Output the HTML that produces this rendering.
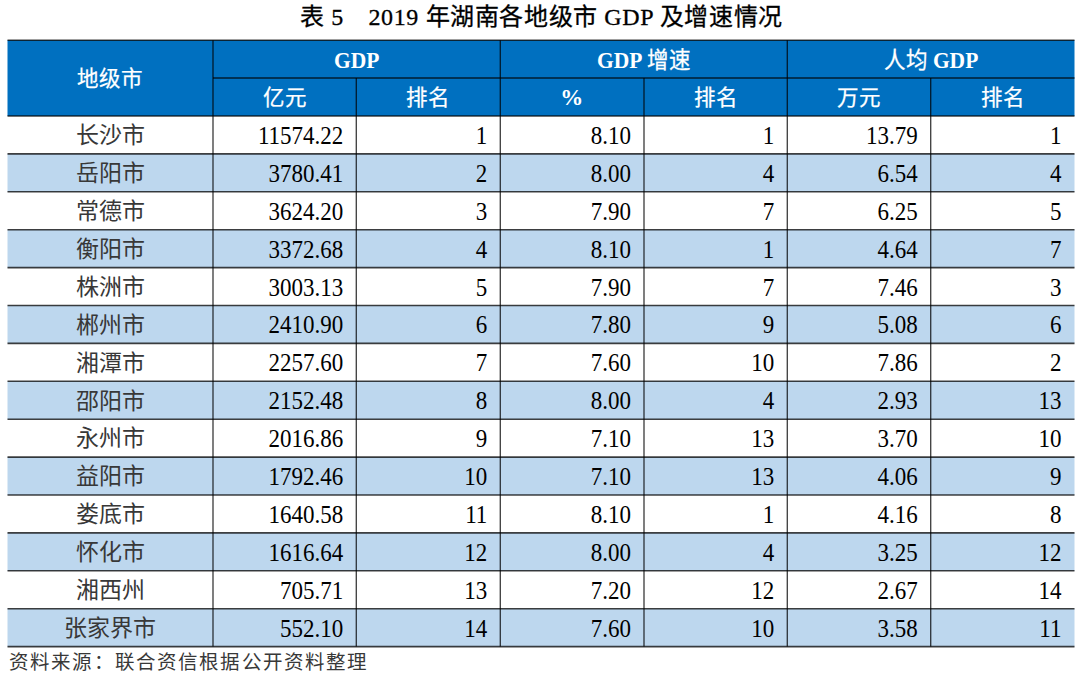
<!DOCTYPE html><html lang="zh-CN"><head><meta charset="utf-8"><style>
*{margin:0;padding:0;box-sizing:border-box}
html,body{width:1080px;height:678px;background:#fff;overflow:hidden;position:relative}
body{font-family:"Liberation Serif",serif;color:#000}
.t{position:absolute;white-space:nowrap}
.bg{position:absolute}
.ln{position:absolute;background:rgba(0,0,0,0.75)}
.title{left:0;width:1080px;text-align:center;font-size:24px;line-height:30px;letter-spacing:0.6px;padding-left:3px;-webkit-text-stroke:0.3px #000}
.hd{color:#fff;font-size:21.5px;text-align:center;-webkit-text-stroke:0.25px #fff}
.hdb{-webkit-text-stroke:0}
.hdb{font-weight:bold}
.nb{font-weight:normal;-webkit-text-stroke:0.25px #fff}
.cn{font-size:23px;text-align:center;color:#383838}
.num{font-size:23px;text-align:right;color:#000;transform:scaleY(1.09)}
.foot{font-size:19.5px;line-height:28px;color:#383838}
</style></head><body>
<svg style="position:absolute;left:0;top:0" width="1080" height="678" viewBox="0 0 1080 678"><rect x="7.50" y="40.20" width="1067.00" height="75.80" fill="#0070c0"/><rect x="7.50" y="153.90" width="1067.00" height="37.90" fill="#bdd7ee"/><rect x="7.50" y="229.70" width="1067.00" height="37.90" fill="#bdd7ee"/><rect x="7.50" y="305.50" width="1067.00" height="37.90" fill="#bdd7ee"/><rect x="7.50" y="381.30" width="1067.00" height="37.90" fill="#bdd7ee"/><rect x="7.50" y="457.10" width="1067.00" height="37.90" fill="#bdd7ee"/><rect x="7.50" y="532.90" width="1067.00" height="37.90" fill="#bdd7ee"/><rect x="7.50" y="608.70" width="1067.00" height="37.90" fill="#bdd7ee"/></svg>
<div class="t hd" style="left:7.50px;width:205.50px;top:64.40px;line-height:30px;height:30px;">地级市</div>
<div class="t hd hdb" style="left:213.00px;width:287.30px;top:45.00px;line-height:30px;height:30px;transform:scaleY(1.08)">GDP</div>
<div class="t hd hdb" style="left:500.30px;width:287.00px;top:45.00px;line-height:30px;height:30px;transform:scaleY(1.08)">GDP <span class="nb">增速</span></div>
<div class="t hd hdb" style="left:787.30px;width:287.20px;top:45.00px;line-height:30px;height:30px;transform:scaleY(1.08)"><span class="nb">人均</span> GDP</div>
<div class="t hd" style="left:213.00px;width:143.30px;top:83.30px;line-height:30px;height:30px;">亿元</div>
<div class="t hd" style="left:356.30px;width:144.00px;top:83.30px;line-height:30px;height:30px;">排名</div>
<div class="t hd hdb" style="left:500.30px;width:143.70px;top:83.30px;line-height:30px;height:30px;font-size:23px;padding-right:1px">%</div>
<div class="t hd" style="left:644.00px;width:143.30px;top:83.30px;line-height:30px;height:30px;">排名</div>
<div class="t hd" style="left:787.30px;width:143.40px;top:83.30px;line-height:30px;height:30px;">万元</div>
<div class="t hd" style="left:930.70px;width:143.80px;top:83.30px;line-height:30px;height:30px;">排名</div>
<div class="t cn" style="left:7.50px;width:205.50px;top:121.25px;line-height:30px;height:30px;">长沙市</div>
<div class="t num" style="left:213.00px;width:130.30px;top:120.95px;line-height:30px;height:30px;">11574.22</div>
<div class="t num" style="left:356.30px;width:131.00px;top:120.95px;line-height:30px;height:30px;">1</div>
<div class="t num" style="left:500.30px;width:130.70px;top:120.95px;line-height:30px;height:30px;">8.10</div>
<div class="t num" style="left:644.00px;width:130.30px;top:120.95px;line-height:30px;height:30px;">1</div>
<div class="t num" style="left:787.30px;width:130.40px;top:120.95px;line-height:30px;height:30px;">13.79</div>
<div class="t num" style="left:930.70px;width:130.80px;top:120.95px;line-height:30px;height:30px;">1</div>
<div class="t cn" style="left:7.50px;width:205.50px;top:159.15px;line-height:30px;height:30px;">岳阳市</div>
<div class="t num" style="left:213.00px;width:130.30px;top:158.85px;line-height:30px;height:30px;">3780.41</div>
<div class="t num" style="left:356.30px;width:131.00px;top:158.85px;line-height:30px;height:30px;">2</div>
<div class="t num" style="left:500.30px;width:130.70px;top:158.85px;line-height:30px;height:30px;">8.00</div>
<div class="t num" style="left:644.00px;width:130.30px;top:158.85px;line-height:30px;height:30px;">4</div>
<div class="t num" style="left:787.30px;width:130.40px;top:158.85px;line-height:30px;height:30px;">6.54</div>
<div class="t num" style="left:930.70px;width:130.80px;top:158.85px;line-height:30px;height:30px;">4</div>
<div class="t cn" style="left:7.50px;width:205.50px;top:197.05px;line-height:30px;height:30px;">常德市</div>
<div class="t num" style="left:213.00px;width:130.30px;top:196.75px;line-height:30px;height:30px;">3624.20</div>
<div class="t num" style="left:356.30px;width:131.00px;top:196.75px;line-height:30px;height:30px;">3</div>
<div class="t num" style="left:500.30px;width:130.70px;top:196.75px;line-height:30px;height:30px;">7.90</div>
<div class="t num" style="left:644.00px;width:130.30px;top:196.75px;line-height:30px;height:30px;">7</div>
<div class="t num" style="left:787.30px;width:130.40px;top:196.75px;line-height:30px;height:30px;">6.25</div>
<div class="t num" style="left:930.70px;width:130.80px;top:196.75px;line-height:30px;height:30px;">5</div>
<div class="t cn" style="left:7.50px;width:205.50px;top:234.95px;line-height:30px;height:30px;">衡阳市</div>
<div class="t num" style="left:213.00px;width:130.30px;top:234.65px;line-height:30px;height:30px;">3372.68</div>
<div class="t num" style="left:356.30px;width:131.00px;top:234.65px;line-height:30px;height:30px;">4</div>
<div class="t num" style="left:500.30px;width:130.70px;top:234.65px;line-height:30px;height:30px;">8.10</div>
<div class="t num" style="left:644.00px;width:130.30px;top:234.65px;line-height:30px;height:30px;">1</div>
<div class="t num" style="left:787.30px;width:130.40px;top:234.65px;line-height:30px;height:30px;">4.64</div>
<div class="t num" style="left:930.70px;width:130.80px;top:234.65px;line-height:30px;height:30px;">7</div>
<div class="t cn" style="left:7.50px;width:205.50px;top:272.85px;line-height:30px;height:30px;">株洲市</div>
<div class="t num" style="left:213.00px;width:130.30px;top:272.55px;line-height:30px;height:30px;">3003.13</div>
<div class="t num" style="left:356.30px;width:131.00px;top:272.55px;line-height:30px;height:30px;">5</div>
<div class="t num" style="left:500.30px;width:130.70px;top:272.55px;line-height:30px;height:30px;">7.90</div>
<div class="t num" style="left:644.00px;width:130.30px;top:272.55px;line-height:30px;height:30px;">7</div>
<div class="t num" style="left:787.30px;width:130.40px;top:272.55px;line-height:30px;height:30px;">7.46</div>
<div class="t num" style="left:930.70px;width:130.80px;top:272.55px;line-height:30px;height:30px;">3</div>
<div class="t cn" style="left:7.50px;width:205.50px;top:310.75px;line-height:30px;height:30px;">郴州市</div>
<div class="t num" style="left:213.00px;width:130.30px;top:310.45px;line-height:30px;height:30px;">2410.90</div>
<div class="t num" style="left:356.30px;width:131.00px;top:310.45px;line-height:30px;height:30px;">6</div>
<div class="t num" style="left:500.30px;width:130.70px;top:310.45px;line-height:30px;height:30px;">7.80</div>
<div class="t num" style="left:644.00px;width:130.30px;top:310.45px;line-height:30px;height:30px;">9</div>
<div class="t num" style="left:787.30px;width:130.40px;top:310.45px;line-height:30px;height:30px;">5.08</div>
<div class="t num" style="left:930.70px;width:130.80px;top:310.45px;line-height:30px;height:30px;">6</div>
<div class="t cn" style="left:7.50px;width:205.50px;top:348.65px;line-height:30px;height:30px;">湘潭市</div>
<div class="t num" style="left:213.00px;width:130.30px;top:348.35px;line-height:30px;height:30px;">2257.60</div>
<div class="t num" style="left:356.30px;width:131.00px;top:348.35px;line-height:30px;height:30px;">7</div>
<div class="t num" style="left:500.30px;width:130.70px;top:348.35px;line-height:30px;height:30px;">7.60</div>
<div class="t num" style="left:644.00px;width:130.30px;top:348.35px;line-height:30px;height:30px;">10</div>
<div class="t num" style="left:787.30px;width:130.40px;top:348.35px;line-height:30px;height:30px;">7.86</div>
<div class="t num" style="left:930.70px;width:130.80px;top:348.35px;line-height:30px;height:30px;">2</div>
<div class="t cn" style="left:7.50px;width:205.50px;top:386.55px;line-height:30px;height:30px;">邵阳市</div>
<div class="t num" style="left:213.00px;width:130.30px;top:386.25px;line-height:30px;height:30px;">2152.48</div>
<div class="t num" style="left:356.30px;width:131.00px;top:386.25px;line-height:30px;height:30px;">8</div>
<div class="t num" style="left:500.30px;width:130.70px;top:386.25px;line-height:30px;height:30px;">8.00</div>
<div class="t num" style="left:644.00px;width:130.30px;top:386.25px;line-height:30px;height:30px;">4</div>
<div class="t num" style="left:787.30px;width:130.40px;top:386.25px;line-height:30px;height:30px;">2.93</div>
<div class="t num" style="left:930.70px;width:130.80px;top:386.25px;line-height:30px;height:30px;">13</div>
<div class="t cn" style="left:7.50px;width:205.50px;top:424.45px;line-height:30px;height:30px;">永州市</div>
<div class="t num" style="left:213.00px;width:130.30px;top:424.15px;line-height:30px;height:30px;">2016.86</div>
<div class="t num" style="left:356.30px;width:131.00px;top:424.15px;line-height:30px;height:30px;">9</div>
<div class="t num" style="left:500.30px;width:130.70px;top:424.15px;line-height:30px;height:30px;">7.10</div>
<div class="t num" style="left:644.00px;width:130.30px;top:424.15px;line-height:30px;height:30px;">13</div>
<div class="t num" style="left:787.30px;width:130.40px;top:424.15px;line-height:30px;height:30px;">3.70</div>
<div class="t num" style="left:930.70px;width:130.80px;top:424.15px;line-height:30px;height:30px;">10</div>
<div class="t cn" style="left:7.50px;width:205.50px;top:462.35px;line-height:30px;height:30px;">益阳市</div>
<div class="t num" style="left:213.00px;width:130.30px;top:462.05px;line-height:30px;height:30px;">1792.46</div>
<div class="t num" style="left:356.30px;width:131.00px;top:462.05px;line-height:30px;height:30px;">10</div>
<div class="t num" style="left:500.30px;width:130.70px;top:462.05px;line-height:30px;height:30px;">7.10</div>
<div class="t num" style="left:644.00px;width:130.30px;top:462.05px;line-height:30px;height:30px;">13</div>
<div class="t num" style="left:787.30px;width:130.40px;top:462.05px;line-height:30px;height:30px;">4.06</div>
<div class="t num" style="left:930.70px;width:130.80px;top:462.05px;line-height:30px;height:30px;">9</div>
<div class="t cn" style="left:7.50px;width:205.50px;top:500.25px;line-height:30px;height:30px;">娄底市</div>
<div class="t num" style="left:213.00px;width:130.30px;top:499.95px;line-height:30px;height:30px;">1640.58</div>
<div class="t num" style="left:356.30px;width:131.00px;top:499.95px;line-height:30px;height:30px;">11</div>
<div class="t num" style="left:500.30px;width:130.70px;top:499.95px;line-height:30px;height:30px;">8.10</div>
<div class="t num" style="left:644.00px;width:130.30px;top:499.95px;line-height:30px;height:30px;">1</div>
<div class="t num" style="left:787.30px;width:130.40px;top:499.95px;line-height:30px;height:30px;">4.16</div>
<div class="t num" style="left:930.70px;width:130.80px;top:499.95px;line-height:30px;height:30px;">8</div>
<div class="t cn" style="left:7.50px;width:205.50px;top:538.15px;line-height:30px;height:30px;">怀化市</div>
<div class="t num" style="left:213.00px;width:130.30px;top:537.85px;line-height:30px;height:30px;">1616.64</div>
<div class="t num" style="left:356.30px;width:131.00px;top:537.85px;line-height:30px;height:30px;">12</div>
<div class="t num" style="left:500.30px;width:130.70px;top:537.85px;line-height:30px;height:30px;">8.00</div>
<div class="t num" style="left:644.00px;width:130.30px;top:537.85px;line-height:30px;height:30px;">4</div>
<div class="t num" style="left:787.30px;width:130.40px;top:537.85px;line-height:30px;height:30px;">3.25</div>
<div class="t num" style="left:930.70px;width:130.80px;top:537.85px;line-height:30px;height:30px;">12</div>
<div class="t cn" style="left:7.50px;width:205.50px;top:576.05px;line-height:30px;height:30px;">湘西州</div>
<div class="t num" style="left:213.00px;width:130.30px;top:575.75px;line-height:30px;height:30px;">705.71</div>
<div class="t num" style="left:356.30px;width:131.00px;top:575.75px;line-height:30px;height:30px;">13</div>
<div class="t num" style="left:500.30px;width:130.70px;top:575.75px;line-height:30px;height:30px;">7.20</div>
<div class="t num" style="left:644.00px;width:130.30px;top:575.75px;line-height:30px;height:30px;">12</div>
<div class="t num" style="left:787.30px;width:130.40px;top:575.75px;line-height:30px;height:30px;">2.67</div>
<div class="t num" style="left:930.70px;width:130.80px;top:575.75px;line-height:30px;height:30px;">14</div>
<div class="t cn" style="left:7.50px;width:205.50px;top:613.95px;line-height:30px;height:30px;">张家界市</div>
<div class="t num" style="left:213.00px;width:130.30px;top:613.65px;line-height:30px;height:30px;">552.10</div>
<div class="t num" style="left:356.30px;width:131.00px;top:613.65px;line-height:30px;height:30px;">14</div>
<div class="t num" style="left:500.30px;width:130.70px;top:613.65px;line-height:30px;height:30px;">7.60</div>
<div class="t num" style="left:644.00px;width:130.30px;top:613.65px;line-height:30px;height:30px;">10</div>
<div class="t num" style="left:787.30px;width:130.40px;top:613.65px;line-height:30px;height:30px;">3.58</div>
<div class="t num" style="left:930.70px;width:130.80px;top:613.65px;line-height:30px;height:30px;">11</div>
<svg style="position:absolute;left:0;top:0" width="1080" height="678" viewBox="0 0 1080 678"><g stroke="rgba(0,0,0,0.75)" shape-rendering="geometricPrecision"><line x1="7.50" y1="40.20" x2="1074.50" y2="40.20" stroke-width="1.6"/><line x1="213.00" y1="78.00" x2="1074.50" y2="78.00" stroke-width="1.6"/><line x1="7.50" y1="116.00" x2="1074.50" y2="116.00" stroke-width="1.6"/><line x1="7.50" y1="153.90" x2="1074.50" y2="153.90" stroke-width="1.6"/><line x1="7.50" y1="191.80" x2="1074.50" y2="191.80" stroke-width="1.6"/><line x1="7.50" y1="229.70" x2="1074.50" y2="229.70" stroke-width="1.6"/><line x1="7.50" y1="267.60" x2="1074.50" y2="267.60" stroke-width="1.6"/><line x1="7.50" y1="305.50" x2="1074.50" y2="305.50" stroke-width="1.6"/><line x1="7.50" y1="343.40" x2="1074.50" y2="343.40" stroke-width="1.6"/><line x1="7.50" y1="381.30" x2="1074.50" y2="381.30" stroke-width="1.6"/><line x1="7.50" y1="419.20" x2="1074.50" y2="419.20" stroke-width="1.6"/><line x1="7.50" y1="457.10" x2="1074.50" y2="457.10" stroke-width="1.6"/><line x1="7.50" y1="495.00" x2="1074.50" y2="495.00" stroke-width="1.6"/><line x1="7.50" y1="532.90" x2="1074.50" y2="532.90" stroke-width="1.6"/><line x1="7.50" y1="570.80" x2="1074.50" y2="570.80" stroke-width="1.6"/><line x1="7.50" y1="608.70" x2="1074.50" y2="608.70" stroke-width="1.6"/><line x1="7.50" y1="646.60" x2="1074.50" y2="646.60" stroke-width="1.6"/><line x1="213.00" y1="40.20" x2="213.00" y2="646.60" stroke-width="1.35"/><line x1="356.30" y1="78.00" x2="356.30" y2="646.60" stroke-width="1.35"/><line x1="500.30" y1="40.20" x2="500.30" y2="646.60" stroke-width="1.35"/><line x1="644.00" y1="78.00" x2="644.00" y2="646.60" stroke-width="1.35"/><line x1="787.30" y1="40.20" x2="787.30" y2="646.60" stroke-width="1.35"/><line x1="930.70" y1="78.00" x2="930.70" y2="646.60" stroke-width="1.35"/></g></svg>
<div class="t title" style="top:2px">表 5　2019 年湖南各地级市 GDP 及增速情况</div>
<div class="t foot" style="left:9px;top:649px;letter-spacing:1.15px">资料来源：联合资信根据公开资料整理</div>
</body></html>
